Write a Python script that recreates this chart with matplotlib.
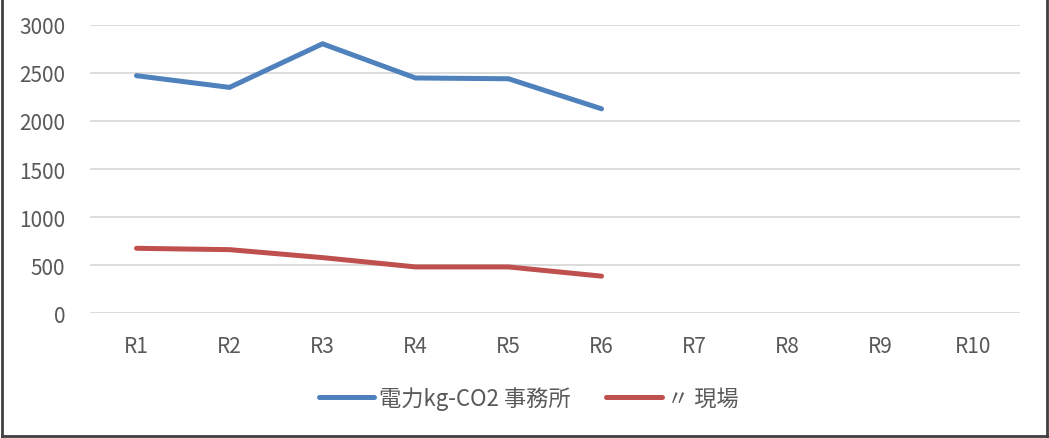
import matplotlib
matplotlib.use('Agg')
import matplotlib.pyplot as plt
from matplotlib.lines import Line2D

plt.rcParams['font.family'] = ['Noto Sans CJK JP', 'DejaVu Sans']

# datos
categorias = ['R1', 'R2', 'R3', 'R4', 'R5', 'R6', 'R7', 'R8', 'R9', 'R10']
oficina = [2472, 2350, 2804, 2448, 2440, 2127]
obra = [674, 660, 577, 480, 480, 384]
nombres = ['電力kg-CO2 事務所', '〃 現場']

fig = plt.figure(figsize=(10.49, 4.39), dpi=100)
ax = fig.add_axes([0.0858, 0.2847, 0.8866, 0.6561])

x = list(range(len(categorias)))
ax.plot(x[:len(oficina)], oficina, color='#4F81BD', linewidth=3.6,
        solid_capstyle='round', solid_joinstyle='miter', label=nombres[0])
ax.plot(x[:len(obra)], obra, color='#C0504D', linewidth=3.6,
        solid_capstyle='round', solid_joinstyle='miter', label=nombres[1])

ax.set_xlim(-0.5, len(categorias) - 0.5)
ax.set_ylim(0, 3000)
ax.set_yticks(range(0, 3001, 500))
ax.set_xticks(x)
ax.set_xticklabels(categorias)
ax.grid(axis='y', color='#D9D9D9', linewidth=1.3)
ax.set_axisbelow(True)
for s in ax.spines.values():
    s.set_visible(False)
ax.tick_params(axis='both', length=0, labelsize=15, labelcolor='#595959')
ax.tick_params(axis='x', pad=16)
ax.tick_params(axis='y', pad=18)

handles = [Line2D([], [], color='#4F81BD', linewidth=3.6, solid_capstyle='round'),
           Line2D([], [], color='#C0504D', linewidth=3.6, solid_capstyle='round')]
leg = fig.legend(handles, nombres, loc='center', bbox_to_anchor=(0.504, 0.091),
                 ncol=2, frameon=False, fontsize=16, handlelength=2.5,
                 handletextpad=0.22, columnspacing=1.6)
for t in leg.get_texts():
    t.set_color('#595959')

# marco exterior
fig.add_artist(Line2D([0.002, 0.002], [0.004, 1.0], transform=fig.transFigure,
                      color='#404040', linewidth=2))
fig.add_artist(Line2D([0.002, 0.998], [0.004, 0.004], transform=fig.transFigure,
                      color='#404040', linewidth=2))
fig.add_artist(Line2D([0.998, 0.998], [0.004, 1.0], transform=fig.transFigure,
                      color='#404040', linewidth=2))

fig.savefig('out.png', dpi=100)
